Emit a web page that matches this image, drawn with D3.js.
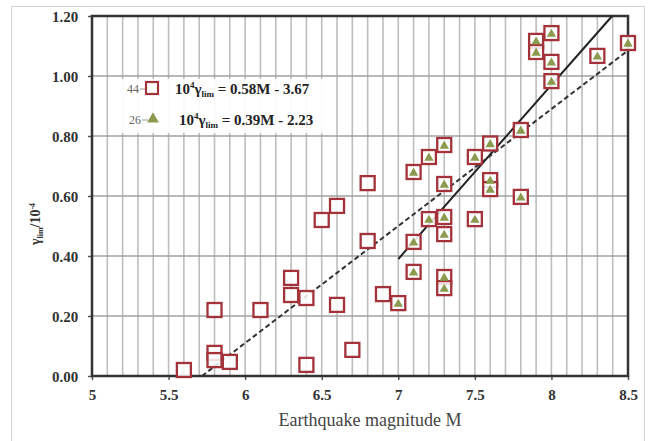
<!DOCTYPE html>
<html>
<head>
<meta charset="utf-8">
<script src="https://cdn.jsdelivr.net/npm/d3@7"></script>
<style>
  body { margin: 0; background: #fff; }
  svg { display: block; font-family: "Liberation Serif", "Times New Roman", serif; }
</style>
</head>
<body>
<svg id="chart" width="650" height="441"></svg>
<script>
// all squares (44 records, one hidden under another)
var squareM = [5.6, 5.8, 5.8, 5.8, 5.9, 6.1, 6.3, 6.3, 6.4, 6.4, 6.5, 6.6, 6.6, 6.7, 6.8, 6.8, 6.9,
  7.0, 7.1, 7.1, 7.1, 7.2, 7.2, 7.3, 7.3, 7.3, 7.3, 7.3, 7.3, 7.5, 7.5, 7.6, 7.6, 7.6, 7.8, 7.8,
  7.9, 7.9, 8.0, 8.0, 8.0, 8.3, 8.5];
var squareY = [0.02, 0.22, 0.077, 0.053, 0.047, 0.22, 0.327, 0.27, 0.26, 0.037, 0.52, 0.567, 0.237, 0.087, 0.643, 0.45, 0.273,
  0.243, 0.68, 0.447, 0.347, 0.73, 0.523, 0.77, 0.64, 0.53, 0.473, 0.33, 0.293, 0.73, 0.523, 0.775, 0.653, 0.623, 0.82, 0.597,
  1.117, 1.08, 1.143, 1.047, 0.983, 1.067, 1.11];
// the 26 triangles sit on the squares from M = 7.0 upward
var triM = squareM.slice(17);
var triY = squareY.slice(17);

var xTicks = [5, 5.5, 6, 6.5, 7, 7.5, 8, 8.5];
var yTicks = [0, 0.2, 0.4, 0.6, 0.8, 1.0, 1.2];

// fitted lines: 10^4 y = a*M + b
var fitAll = { a: 0.58, b: -3.67, m0: 7.0 };
var fitTri = { a: 0.39, b: -2.23, m0: 5.718 };

var svg = d3.select("#chart");
var pL = 92, pR = 628, pT = 16, pB = 376;

var x = d3.scaleLinear().domain([5, 8.5]).range([pL, pR]);
var y = d3.scaleLinear().domain([0, 1.2]).range([pB, pT]);

// outer light frame
svg.append("rect").attr("x", 11.5).attr("y", 6.5).attr("width", 633).attr("height", 440)
  .attr("fill", "none").attr("stroke", "#d4d4d4");

// vertical grid every 0.1
svg.append("g").selectAll("line").data(d3.range(51, 85).map(function(d) { return d / 10; }))
  .enter().append("line")
  .attr("x1", function(d) { return x(d); }).attr("x2", function(d) { return x(d); })
  .attr("y1", pT).attr("y2", pB)
  .attr("stroke", "#bdbdbd").attr("stroke-width", 1.6);

// horizontal grid
svg.append("g").selectAll("line").data(yTicks.slice(1, -1))
  .enter().append("line")
  .attr("x1", pL).attr("x2", pR)
  .attr("y1", function(d) { return y(d); }).attr("y2", function(d) { return y(d); })
  .attr("stroke", "#a0a0a0").attr("stroke-width", 1.6);

// axes
var xAxis = svg.append("g").attr("transform", "translate(0," + pB + ")")
  .call(d3.axisBottom(x).tickValues(xTicks).tickSize(4).tickFormat(d3.format("")));
var yAxis = svg.append("g").attr("transform", "translate(" + pL + ",0)")
  .call(d3.axisLeft(y).tickValues(yTicks).tickSize(4).tickFormat(d3.format(".2f")));
[xAxis, yAxis].forEach(function(g) {
  g.select(".domain").remove();
  g.selectAll("line").attr("stroke", "#555").attr("stroke-width", 1.5);
  g.selectAll("text").attr("font-family", "Liberation Serif").attr("font-weight", "bold")
    .attr("font-size", 15).attr("fill", "#333");
});
xAxis.selectAll("text").attr("dy", "1.15em");
yAxis.selectAll("text").attr("dx", "-0.45em").attr("dy", "0.35em");

// plot frame
svg.append("rect").attr("x", pL).attr("y", pT).attr("width", pR - pL).attr("height", pB - pT)
  .attr("fill", "none").attr("stroke", "#333").attr("stroke-width", 2.5);

// fit lines
var line = d3.line().x(function(d) { return x(d[0]); }).y(function(d) { return y(d[1]); });
function fitPts(f, m1) { return [[f.m0, (f.a * f.m0 + f.b)], [m1, (f.a * m1 + f.b)]]; }
svg.append("path").datum(fitPts(fitAll, (1.2 - fitAll.b) / fitAll.a)).attr("d", line)
  .attr("fill", "none").attr("stroke", "#222").attr("stroke-width", 2);
svg.append("path").datum(fitPts(fitTri, 8.5)).attr("d", line)
  .attr("fill", "none").attr("stroke", "#333").attr("stroke-width", 2).attr("stroke-dasharray", "5,3");

// squares
var sq = 14;
svg.append("g").selectAll("rect").data(d3.zip(squareM, squareY)).enter().append("rect")
  .attr("x", function(d) { return x(d[0]) - sq / 2; })
  .attr("y", function(d) { return y(d[1]) - sq / 2; })
  .attr("width", sq).attr("height", sq)
  .attr("fill", "#fff").attr("fill-opacity", 0.85)
  .attr("stroke", "#a3323a").attr("stroke-width", 2.3);

// triangles
var tri = d3.symbol().type(d3.symbolTriangle).size(38);
svg.append("g").selectAll("path").data(d3.zip(triM, triY)).enter().append("path")
  .attr("d", tri)
  .attr("transform", function(d) { return "translate(" + x(d[0]) + "," + (y(d[1]) + 1) + ")"; })
  .attr("fill", "#8a9a4e");

// legend
var lg = svg.append("g");
lg.append("rect").attr("x", 118).attr("y", 79).attr("width", 216).attr("height", 54)
  .attr("fill", "#fff").attr("fill-opacity", 0.92);
lg.append("text").attr("x", 127).attr("y", 93).attr("font-size", 12).attr("fill", "#666").text("44");
lg.append("line").attr("x1", 140).attr("x2", 146).attr("y1", 89).attr("y2", 89).attr("stroke", "#999");
lg.append("rect").attr("x", 146).attr("y", 82).attr("width", 12).attr("height", 12)
  .attr("fill", "#fff").attr("stroke", "#a3323a").attr("stroke-width", 2.2);
lg.append("text").attr("x", 129).attr("y", 124).attr("font-size", 12).attr("fill", "#666").text("26");
lg.append("line").attr("x1", 142).attr("x2", 148).attr("y1", 120).attr("y2", 120).attr("stroke", "#999");
lg.append("path").attr("d", d3.symbol().type(d3.symbolTriangle).size(60))
  .attr("transform", "translate(153,119)").attr("fill", "#8a9a4e");

function eqText(xp, yp, a, b) {
  var t = lg.append("text").attr("x", xp).attr("y", yp).attr("font-size", 15)
    .attr("font-weight", "bold").attr("fill", "#222");
  t.append("tspan").text("10");
  t.append("tspan").attr("font-size", 9).attr("dy", -6).text("4");
  t.append("tspan").attr("dy", 6).text("γ");
  t.append("tspan").attr("font-size", 9).attr("dy", 3).text("lim");
  t.append("tspan").attr("dy", -3).text(" = " + a + "M - " + b);
}
eqText(175, 94, "0.58", "3.67");
eqText(179, 125, "0.39", "2.23");

// axis titles
svg.append("text").attr("x", (pL + pR) / 2 + 10).attr("y", 426).attr("text-anchor", "middle")
  .attr("font-size", 18).attr("fill", "#444").text("Earthquake magnitude M");

var yt = svg.append("text").attr("transform", "translate(40,224) rotate(-90)")
  .attr("text-anchor", "middle").attr("font-size", 14).attr("font-weight", "bold").attr("fill", "#333");
yt.append("tspan").text("γ");
yt.append("tspan").attr("font-size", 8).attr("dy", 3).text("lim");
yt.append("tspan").attr("dy", -3).text("/10");
yt.append("tspan").attr("font-size", 8).attr("dy", -5).text("-4");
</script>
</body>
</html>
